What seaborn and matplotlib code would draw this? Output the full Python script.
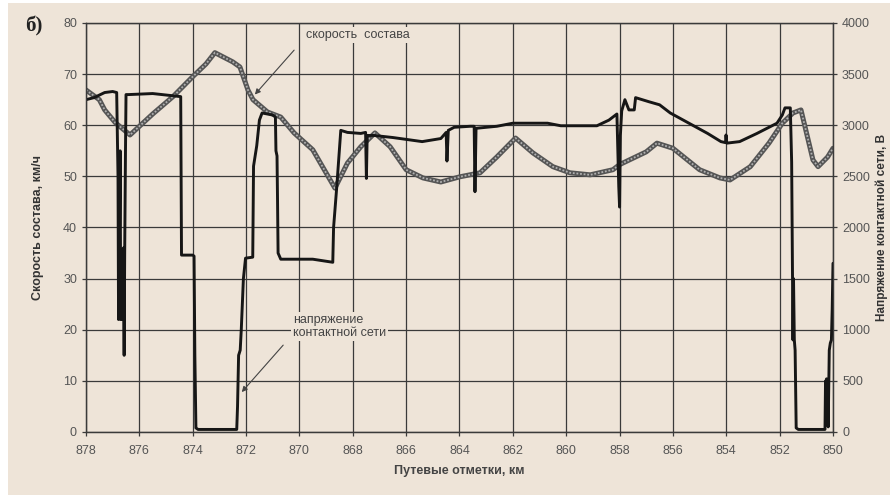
import seaborn as sns
import matplotlib.pyplot as plt
import pandas as pd
from matplotlib.patches import Rectangle

# скорость состава (км/ч) по путевым отметкам
speed_km = [878.0, 877.5, 877.3, 876.9, 876.35, 875.5, 874.74, 874.0, 873.5, 873.17,
            872.5, 872.23, 871.93, 871.74, 871.2, 870.7, 870.2, 869.5, 868.67, 868.2,
            867.7, 867.17, 866.6, 866.0, 865.37, 864.7, 864.0, 863.23, 862.6, 861.9,
            861.25, 860.5, 859.86, 859.1, 858.25, 858.0, 857.0, 856.6, 856.0, 855.0,
            854.24, 853.86, 853.1, 852.4, 851.9, 851.5, 851.2, 850.75, 850.56, 850.2, 850.0]
speed_kmh = [66.9, 65.0, 63.0, 60.5, 58.1, 62.2, 65.6, 69.5, 72.0, 74.2,
             72.4, 71.4, 66.9, 65.0, 62.6, 61.6, 58.5, 55.2, 47.7, 52.6,
             55.8, 58.5, 55.8, 51.3, 49.7, 48.9, 49.9, 50.7, 53.8, 57.5,
             54.6, 51.9, 50.7, 50.3, 51.3, 52.3, 54.8, 56.5, 55.5, 51.3,
             49.7, 49.3, 51.9, 56.5, 60.4, 62.4, 63.0, 53.2, 51.9, 53.8, 55.5]

# напряжение контактной сети (В)
volt_km = [878.0, 877.7, 877.3, 877.0, 876.85, 876.8, 876.78, 876.75, 876.72, 876.7,
           876.68, 876.65, 876.6, 876.57, 876.55, 876.52, 876.5, 876.4, 875.5, 874.8,
           874.45, 874.42, 874.0, 873.95, 873.92, 873.88, 873.8, 872.5, 872.35, 872.32,
           872.28, 872.22, 872.18, 872.1, 872.02, 871.75, 871.72, 871.6, 871.5, 871.4,
           871.0, 870.9, 870.88, 870.84, 870.82, 870.8, 870.7, 869.5, 868.75, 868.72,
           868.6, 868.45, 868.2, 867.7, 867.52, 867.49, 867.46, 867.2, 866.5, 865.4,
           864.7, 864.5, 864.47, 864.42, 864.2, 863.6, 863.45, 863.42, 863.38, 863.0,
           862.6, 862.0, 861.3, 860.7, 860.2, 859.5, 858.85, 858.4, 858.1, 858.03,
           858.0, 857.97, 857.92, 857.8, 857.65, 857.45, 857.4, 856.9, 856.5, 856.1,
           855.4, 854.7, 854.2, 854.03, 854.01, 853.98, 853.5, 852.85, 852.1, 851.9,
           851.8, 851.6, 851.55, 851.52, 851.5, 851.48, 851.45, 851.42, 851.38, 851.3,
           850.3, 850.28, 850.26, 850.24, 850.22, 850.2, 850.18, 850.14, 850.1, 850.06,
           850.03, 850.0]
volt_v = [3250, 3270, 3320, 3330, 3320, 2500, 1100, 1750, 2750, 1100,
          1750, 1100, 1800, 750, 1750, 2750, 3300, 3300, 3310, 3290,
          3280, 1730, 1730, 1720, 750, 40, 25, 25, 25, 250,
          750, 800, 1000, 1500, 1700, 1710, 2600, 2800, 3050, 3120,
          3100, 3080, 2750, 2700, 2250, 1750, 1690, 1690, 1660, 2000,
          2400, 2950, 2930, 2920, 2930, 2480, 2900, 2900, 2880, 2840,
          2870, 2930, 2650, 2950, 2980, 2990, 2990, 2350, 2970, 2980,
          2990, 3020, 3020, 3020, 2995, 2995, 2995, 3050, 3110, 2400,
          2200, 2900, 3140, 3250, 3150, 3150, 3270, 3230, 3200, 3120,
          3020, 2920, 2840, 2830, 2905, 2825, 2840, 2920, 3020, 3100,
          3170, 3170, 2640, 1600, 900, 1500, 900, 800, 40, 25,
          25, 500, 100, 520, 150, 500, 50, 800, 870, 900,
          1200, 1650]

x_ticks = list(range(878, 849, -2))
left_ticks = list(range(0, 81, 10))
right_ticks = list(range(0, 4001, 500))

bg = '#EEE4D8'
sns.set_theme(style="ticks")
plt.rcParams['font.family'] = ['Liberation Sans', 'DejaVu Sans']

fig = plt.figure(figsize=(8.9, 4.95), dpi=100, facecolor='white')
fig.add_artist(Rectangle((8 / 890, 0), 1, 1 - 3 / 495, transform=fig.transFigure,
                         facecolor=bg, edgecolor='none', zorder=-5))
ax = fig.add_axes([86 / 890, 1 - 432 / 495, 747 / 890, 409 / 495])
ax.set_facecolor('none')
ax2 = ax.twinx()

speed = pd.DataFrame({'km': speed_km, 'v': speed_kmh})
volt = pd.DataFrame({'km': volt_km, 'u': volt_v})

# серая "штрихованная" линия скорости
sns.lineplot(data=speed, x='km', y='v', sort=False, estimator=None, ax=ax,
             color='#555555', linewidth=3.6)
sns.lineplot(data=speed, x='km', y='v', sort=False, estimator=None, ax=ax,
             color='#b0b0b0', linewidth=1.3, linestyle=(0, (1, 1)))
sns.lineplot(data=volt, x='km', y='u', sort=False, estimator=None, ax=ax2,
             color='#161616', linewidth=2.1)

ax.set_xlim(878, 850)
ax.set_ylim(0, 80)
ax2.set_ylim(0, 4000)
ax.set_xticks(x_ticks)
ax.set_xticklabels([str(t) for t in x_ticks])
ax.set_yticks(left_ticks)
ax2.set_yticks(right_ticks)

ax.grid(True, color='#3a3a3a', linewidth=0.9)
ax2.grid(False)
for a in (ax, ax2):
    for s in a.spines.values():
        s.set_color('#3a3a3a')
        s.set_linewidth(0.9)
    a.tick_params(colors='#3a3a3a', labelcolor='#555555', labelsize=9, length=3, width=0.9)
ax.tick_params(axis='x', pad=6)

ax.set_xlabel('Путевые отметки, км', fontsize=9, fontweight='bold', color='#444444', labelpad=6)
ax.set_ylabel('Скорость состава, км/ч', fontsize=9, fontweight='bold', color='#333333', labelpad=14)
ax2.set_ylabel('Напряжение контактной сети, В', fontsize=8.5, fontweight='bold', color='#333333', labelpad=4)

box = dict(facecolor=bg, edgecolor='none', pad=1.5)
arrow = dict(arrowstyle='-|>', color='#444444', lw=0.8, mutation_scale=8)
ax.text(869.75, 77.7, 'скорость  состава', fontsize=9, color='#444444',
        va='center', ha='left', bbox=box)
ax.annotate('', xy=(871.74, 65.6), xytext=(870.13, 75.1), arrowprops=arrow)
ax.text(870.24, 20.7, 'напряжение\nконтактной сети', fontsize=9, color='#444444',
        va='center', ha='left', bbox=box, linespacing=1.1)
ax.annotate('', xy=(872.23, 7.4), xytext=(870.54, 17.4), arrowprops=arrow)

fig.text(25 / 890, 1 - 26 / 495, 'б)', fontsize=15, fontweight='bold',
         family=['Liberation Serif', 'DejaVu Serif'], va='center', ha='left', color='#222222')

fig.savefig('out.png', dpi=100, facecolor=fig.get_facecolor())
